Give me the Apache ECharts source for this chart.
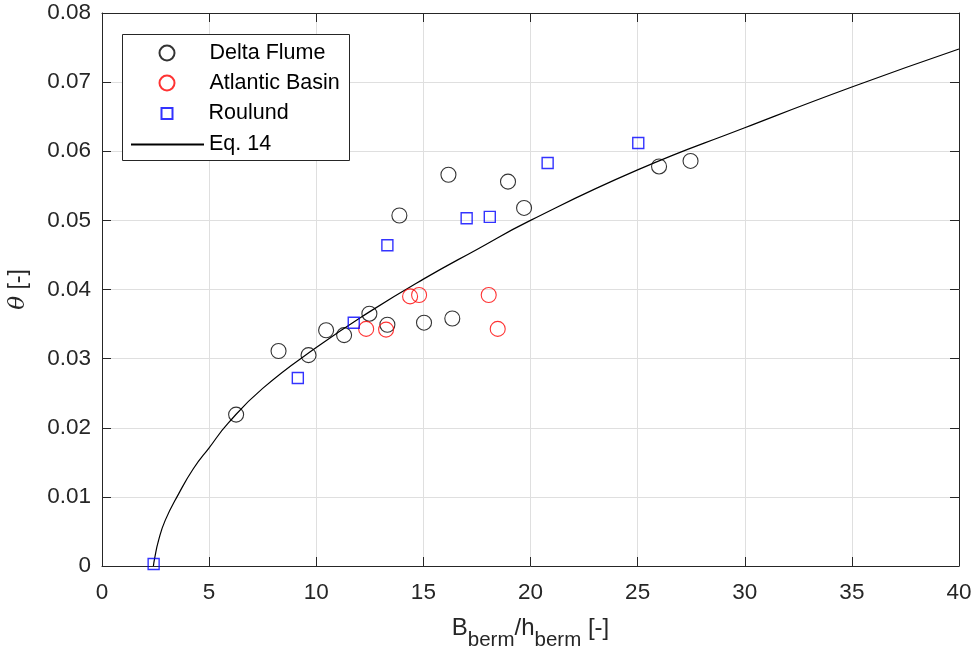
<html>
<head>
	<meta http-equiv="Content-Type" content="text/html; charset=UTF-8">
	<title>theta vs Bberm/hberm</title>
	<style>html,body{margin:0;padding:0;background:#fff;}</style>
</head>
<body>
<div id="chart" style="width:979px;height:649px"></div>
<script type="text/javascript" src="https://cdn.jsdelivr.net/npm/echarts@6/dist/echarts.min.js"></script>
<script type="text/javascript">
// points: [B/h, theta]
var deltaFlume = [
	[6.26, 0.0219], [8.24, 0.0311], [9.64, 0.0305], [10.46, 0.0341], [11.30, 0.0334],
	[12.48, 0.0365], [13.32, 0.0349], [13.88, 0.0507], [15.03, 0.0352], [16.17, 0.0566],
	[16.35, 0.0358], [18.95, 0.0556], [19.70, 0.0518], [26.0, 0.0578], [27.47, 0.0586]
];
var atlanticBasin = [
	[12.33, 0.0343], [13.26, 0.0342], [14.38, 0.0390], [14.80, 0.0392], [18.05, 0.0392], [18.47, 0.0343]
];
var roulund = [
	[2.41, 0.0003], [9.14, 0.0272], [11.75, 0.0352], [13.32, 0.0464], [17.02, 0.0503],
	[18.10, 0.0505], [20.80, 0.0583], [25.03, 0.0612]
];
// Eq. 14 curve
var eq14 = [
	[2.4, 0], [2.45, 0.0010], [2.64, 0.0037], [2.95, 0.0066], [3.57, 0.0104], [4.27, 0.0141],
	[5, 0.0171], [5.9, 0.0207], [7.5, 0.0257], [10, 0.0316], [12.5, 0.0368], [15, 0.0415],
	[17.5, 0.0458], [20, 0.0500], [25, 0.0573], [30, 0.0634], [35, 0.0693], [40, 0.0748]
];
var xTicks = [0, 5, 10, 15, 20, 25, 30, 35, 40];
var yTicks = [0, 0.01, 0.02, 0.03, 0.04, 0.05, 0.06, 0.07, 0.08];

var font = 'Liberation Sans, Arial, sans-serif';
var axisCol = '#262626';
var chart = echarts.init(document.getElementById('chart'));

function boxAxis(showLabels, pos) {
	return {
		type: 'value', min: 0, position: pos,
		axisLine: {show: true, onZero: false, lineStyle: {color: axisCol, width: 1}},
		axisTick: {show: true, inside: true, length: 9, lineStyle: {color: axisCol}},
		axisLabel: {show: showLabels},
		splitLine: {show: false}
	};
}

var xMain = boxAxis(true, 'bottom');
xMain.max = xTicks[xTicks.length - 1]; xMain.interval = xTicks[1] - xTicks[0];
xMain.axisLabel = {show: true, margin: 15, fontSize: 22.5, fontFamily: font, color: axisCol};
xMain.splitLine = {show: true, lineStyle: {color: '#dfdfdf', width: 1}};
xMain.name = '{b|B}{s|berm}{b|/h}{s|berm}{b| [-]}';
xMain.nameLocation = 'middle';
xMain.nameGap = 50;
xMain.nameTextStyle = {
	fontFamily: font, color: axisCol,
	rich: {
		b: {fontSize: 24, fontFamily: font, color: axisCol, verticalAlign: 'top', lineHeight: 26},
		s: {fontSize: 20.5, fontFamily: font, color: axisCol, verticalAlign: 'top', lineHeight: 20, padding: [14, 0, 0, 0]}
	}
};
var xTop = boxAxis(false, 'top');
xTop.max = xMain.max; xTop.interval = xMain.interval;

var yMain = boxAxis(true, 'left');
yMain.max = yTicks[yTicks.length - 1]; yMain.interval = 0.01;
yMain.axisLabel = {show: true, margin: 11, fontSize: 22.5, fontFamily: font, color: axisCol};
yMain.splitLine = {show: true, lineStyle: {color: '#dfdfdf', width: 1}};
yMain.name = '{t|θ} [-]';
yMain.nameLocation = 'middle';
yMain.nameGap = 72;
yMain.nameTextStyle = {
	fontSize: 23, fontFamily: font, color: axisCol,
	rich: {t: {fontSize: 23, fontStyle: 'italic', fontFamily: 'DejaVu Serif, serif', color: axisCol}}
};
var yRight = boxAxis(false, 'right');
yRight.max = yMain.max; yRight.interval = yMain.interval;

var legendText = {fontSize: 21.5, fontFamily: font, color: '#000'};

function legendRow(name, top, left, size, pad) {
	return {
		data: [name], orient: 'vertical', left: left, top: top, padding: 0,
		itemWidth: size, itemHeight: Math.min(size, 15), z: 10,
		textStyle: Object.assign({padding: [0, 0, 0, pad]}, legendText)
	};
}

var legends = [
	legendRow('Delta Flume', 42, 158.5, 15, 30),
	legendRow('Atlantic Basin', 72, 158.5, 15, 30),
	legendRow('Roulund', 102.5, 160.5, 11, 31),
	legendRow('Eq. 14', 133.5, 130, 73, 0)
];
legends[3].itemHeight = 14;
legends[3].itemStyle = {opacity: 0};

var option = {
	backgroundColor: '#fff',
	animation: false,
	grid: {left: 102, right: 20, top: 13, bottom: 83, containLabel: false, outerBoundsMode: 'none'},
	xAxis: [xMain, xTop],
	yAxis: [yMain, yRight],
	graphic: [{
		type: 'rect', z: 5,
		shape: {x: 122.5, y: 34.5, width: 227, height: 126},
		style: {fill: '#fff', stroke: axisCol, lineWidth: 1}
	}],
	legend: legends,
	series: [
		{
			name: 'Eq. 14', type: 'line', data: eq14, smooth: 0.5, symbol: 'none',
			lineStyle: {color: '#000', width: 1.2}, itemStyle: {color: '#000'}, z: 2
		},
		{
			name: 'Delta Flume', type: 'scatter', data: deltaFlume, symbol: 'circle', symbolSize: 15,
			itemStyle: {color: 'rgba(0,0,0,0)', borderColor: '#000', borderWidth: 1.1}, z: 3
		},
		{
			name: 'Atlantic Basin', type: 'scatter', data: atlanticBasin, symbol: 'circle', symbolSize: 15,
			itemStyle: {color: 'rgba(0,0,0,0)', borderColor: '#ff0000', borderWidth: 1.1}, z: 3
		},
		{
			name: 'Roulund', type: 'scatter', data: roulund, symbol: 'rect', symbolSize: 11,
			itemStyle: {color: 'rgba(0,0,0,0)', borderColor: '#0000ff', borderWidth: 1.4}, z: 3
		}
	]
};
chart.setOption(option);
</script>
</body>
</html>
